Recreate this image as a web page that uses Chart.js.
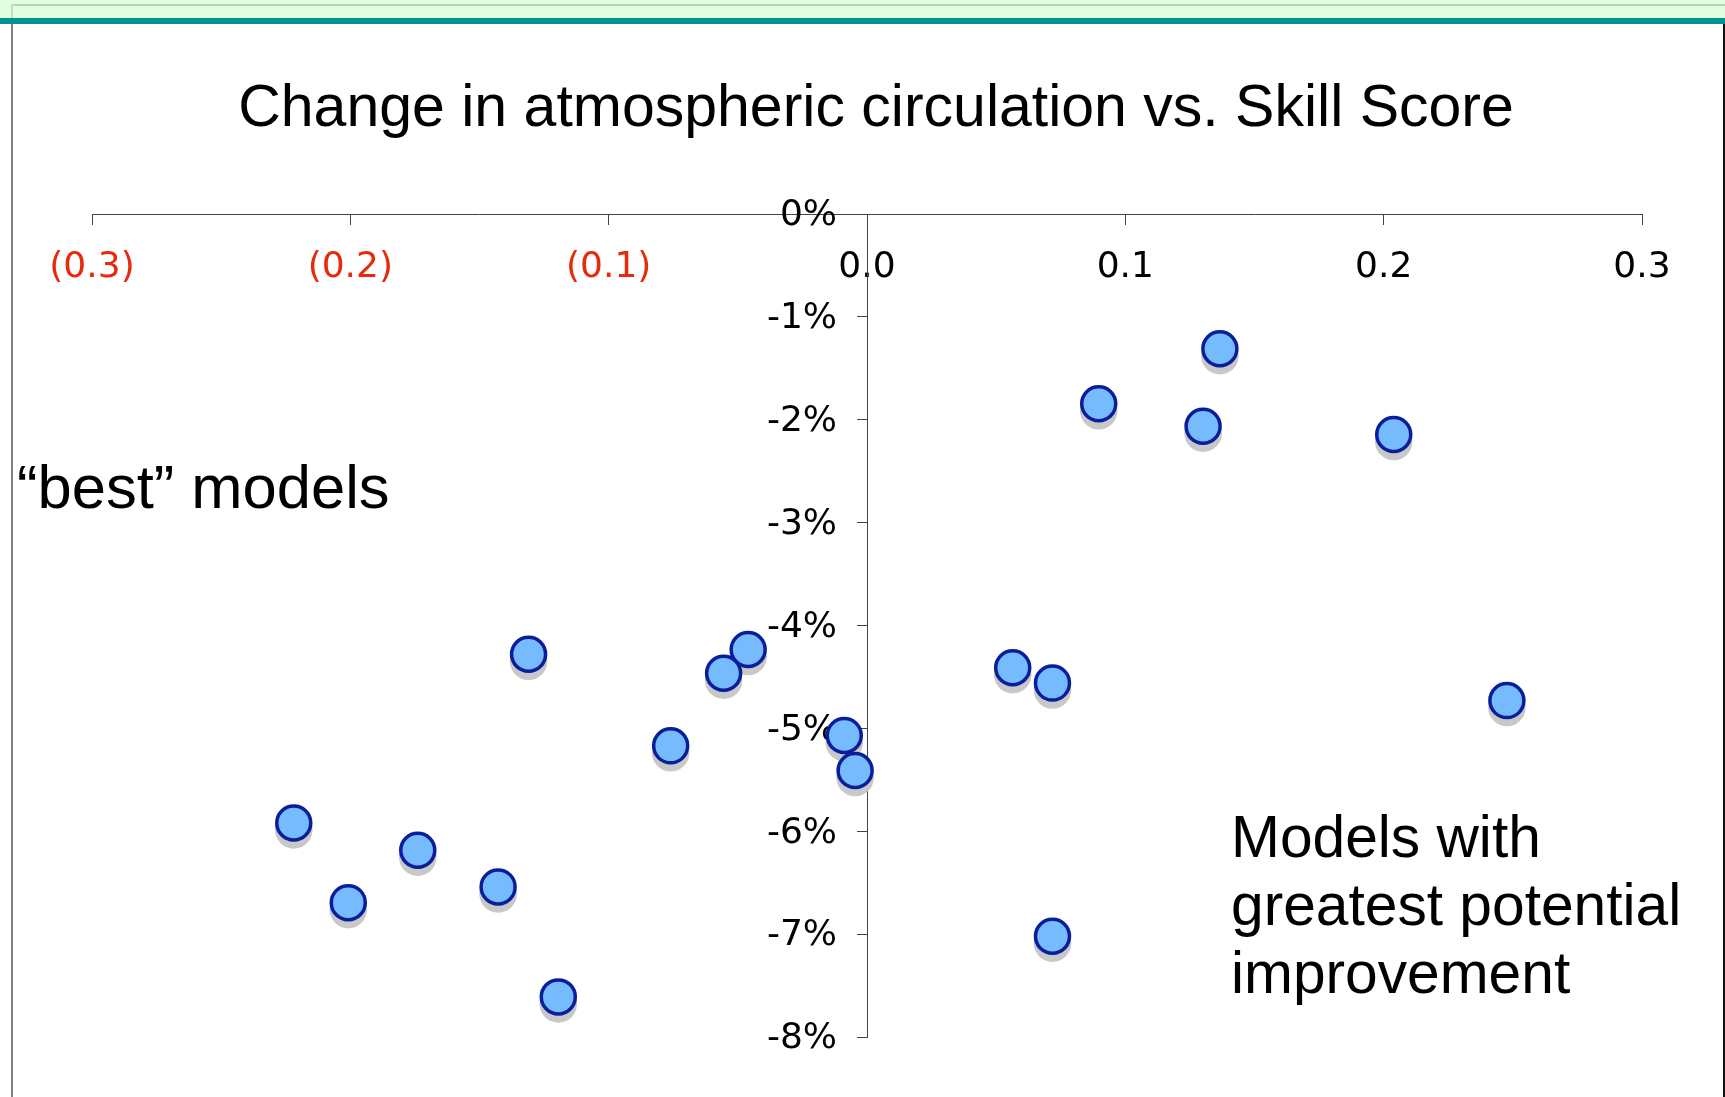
<!DOCTYPE html>
<html>
<head>
<meta charset="utf-8">
<title>Change in atmospheric circulation vs. Skill Score</title>
<script src="https://cdn.jsdelivr.net/npm/chart.js@4.4.1/dist/chart.umd.min.js"></script>
<style>
    html, body { margin: 0; padding: 0; background: #fff; }
    #page { position: relative; width: 1725px; height: 1097px; overflow: hidden; background: #fff; }
    #chart-box { position: absolute; left: 0; top: 0; width: 1725px; height: 1097px; }
    .band-green { position: absolute; left: 0; top: 0; width: 1725px; height: 18px; background: #e0ffe0; }
    .band-green-line { position: absolute; left: 11px; top: 4px; width: 1714px; height: 2px; background: #b9d6b9; }
    .band-green-side { position: absolute; left: 11px; top: 4px; width: 2px; height: 14px; background: #c4dcc4; }
    .band-teal { position: absolute; left: 0; top: 18px; width: 1725px; height: 6px; background: #00938f; }
    .frame-left { position: absolute; left: 11px; top: 24px; width: 2px; height: 1073px; background: #808080; }
    .frame-right { position: absolute; left: 1723px; top: 24px; width: 2px; height: 1073px; background: #111; }
    .note { position: absolute; font-family: "Liberation Sans", Arial, sans-serif; color: #000; white-space: nowrap; }
    .chart-title { left: 0; width: 1752px; text-align: center; top: 71px; font-size: 59px; line-height: 70px; }
</style>
</head>
<body>
<div id="page">
    <div id="chart-box"><canvas id="scatter-chart"></canvas></div>
    <div class="band-green"></div>
    <div class="band-green-line"></div>
    <div class="band-green-side"></div>
    <div class="band-teal"></div>
    <div class="frame-left"></div>
    <div class="frame-right"></div>
    <div class="note chart-title">Change in atmospheric circulation vs. Skill Score</div>
    <div class="note" style="left: 17px; top: 453px; font-size: 61.5px; line-height: 68px;">“best” models</div>
    <div class="note" style="left: 1231px; top: 803px; font-size: 58.7px; line-height: 68px;">Models with<br>greatest potential<br>improvement</div>
</div>
<script>
// Dados (skill score x variação da circulação, em %)
var skillScore = [0.1366, 0.0897, 0.1301, 0.2039, -0.1310, -0.0460, -0.0555, 0.0564, 0.0718, 0.2477,
                  -0.0760, -0.0088, -0.0046, -0.2219, -0.1739, -0.2008, -0.1428, 0.0718, -0.1195];
var circulationChange = [-1.31, -1.845, -2.063, -2.144, -4.28, -4.234, -4.464, -4.41, -4.56, -4.73,
                         -5.17, -5.07, -5.41, -5.919, -6.185, -6.694, -6.541, -7.02, -7.61];

var xTickValues = [-0.3, -0.2, -0.1, 0, 0.1, 0.2, 0.3];
var xTickLabels = ['(0.3)', '(0.2)', '(0.1)', '0.0', '0.1', '0.2', '0.3'];
var yTickValues = [0, -1, -2, -3, -4, -5, -6, -7, -8];
var yTickLabels = ['0%', '-1%', '-2%', '-3%', '-4%', '-5%', '-6%', '-7%', '-8%'];

var scatterChart = null;

/**
 * Sombra cinza debaixo dos pontos (desenhada antes dos pontos)
 */
var pointShadow = {
    id: 'pointShadow',
    beforeDatasetDraw: function(chart, args) {
        var ctx = chart.ctx;
        var ds = chart.data.datasets[args.index];
        var r = ds.pointRadius + ds.borderWidth / 2;
        ctx.save();
        ctx.fillStyle = '#c8c8c8';
        args.meta.data.forEach(function(el) {
            ctx.beginPath();
            ctx.arc(el.x, el.y + 7, r, 0, Math.PI * 2);
            ctx.fill();
        });
        ctx.restore();
    }
};

/**
 * O eixo y posicionado em x=0 não aplica o padding dos rótulos, então desloca aqui
 */
var yLabelOffset = {
    id: 'yLabelOffset',
    beforeDraw: function(chart) {
        var scale = chart.scales.y;
        var items = scale.getLabelItems(chart.chartArea);
        if (items._shifted) return;
        items.forEach(function(item) {
            item.options.translation[0] -= 30;
            item.options.translation[1] += 2;
        });
        items._shifted = true;
    }
};

/**
 * Monta os pontos a partir das listas
 */
function scatterData() {
    let points = [];
    for (let i = 0; i < skillScore.length; i++) {
        points.push({x: skillScore[i], y: circulationChange[i]});
    }
    return {
        datasets: [{
            label: 'Models',
            data: points,
            backgroundColor: '#77bbff',
            borderColor: '#0a1e9c',
            borderWidth: 3.5,
            pointRadius: 17,
            pointHoverRadius: 17,
            clip: false
        }]
    };
}

function initScatterChart() {
    Chart.defaults.font.family = '"DejaVu Sans", Verdana, sans-serif';
    Chart.defaults.color = '#000';

    scatterChart = new Chart(document.getElementById('scatter-chart'), {
        type: 'scatter',
        data: scatterData(),
        plugins: [pointShadow, yLabelOffset],
        options: {
            responsive: true,
            maintainAspectRatio: false,
            animation: false,
            layout: {
                padding: {left: 92, right: 83, top: 214, bottom: 60}
            },
            plugins: {
                legend: {display: false},
                tooltip: {enabled: false},
                title: {display: false}
            },
            scales: {
                x: {
                    type: 'linear',
                    position: {y: 0},
                    min: -0.3,
                    max: 0.3,
                    afterBuildTicks: function(scale) {
                        scale.ticks = xTickValues.map(function(v) { return {value: v}; });
                    },
                    ticks: {
                        autoSkip: false,
                        maxRotation: 0,
                        padding: 22,
                        font: {size: 36},
                        color: function(ctx) {
                            return ctx.tick && ctx.tick.value < -1e-9 ? '#e8290b' : '#000';
                        },
                        callback: function(value, index) {
                            return xTickLabels[index];
                        }
                    },
                    grid: {drawOnChartArea: false, drawTicks: true, tickLength: 10, color: '#444'},
                    border: {display: true, color: '#444', width: 1}
                },
                y: {
                    type: 'linear',
                    position: {x: 0},
                    min: -8,
                    max: 0,
                    afterBuildTicks: function(scale) {
                        scale.ticks = yTickValues.map(function(v) { return {value: v}; });
                    },
                    ticks: {
                        autoSkip: false,
                        padding: 0,
                        font: {size: 36},
                        color: '#000',
                        callback: function(value, index) {
                            return yTickLabels[index];
                        }
                    },
                    grid: {drawOnChartArea: false, drawTicks: true, tickLength: 10, color: '#444'},
                    border: {display: true, color: '#444', width: 1}
                }
            }
        }
    });
}

initScatterChart();
</script>
</body>
</html>
